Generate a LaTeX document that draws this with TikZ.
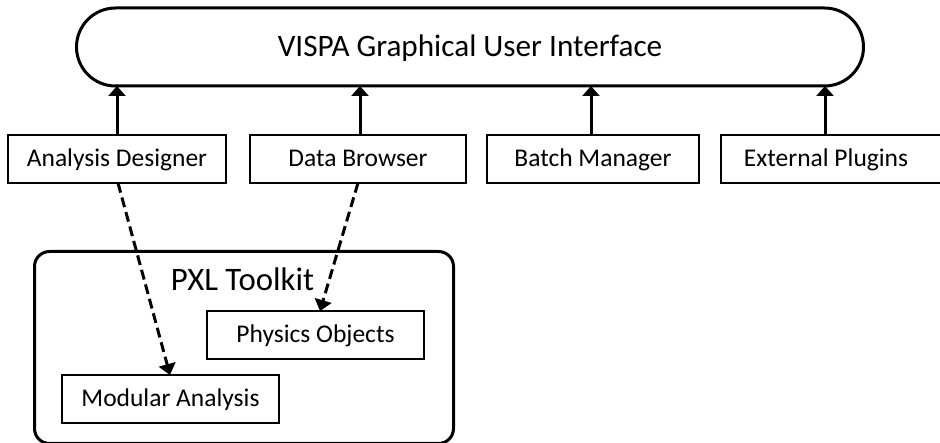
\documentclass[tikz,border=0pt]{standalone}
\usepackage{fontspec}
\setmainfont{Carlito}
\usetikzlibrary{arrows.meta}
\begin{document}
\begin{tikzpicture}[x=1pt,y=-1pt,
  comp/.style={draw,line width=2.2pt,minimum height=48pt,inner sep=0pt,outer sep=0pt,text height=16pt,text depth=0pt,font=\fontsize{25.5}{28}\selectfont,anchor=north west},
  up/.style={line width=3pt,-{Triangle[length=10pt,width=17pt]}},
  dep/.style={line width=3pt,dash pattern=on 10pt off 5pt,-{Triangle[length=11pt,width=17pt]}}]
\useasboundingbox (0,0) rectangle (940,443);
\begin{scope}
\clip (0,0) rectangle (940,443);
\node[draw,line width=3pt,rounded corners=39pt,minimum width=787pt,minimum height=78pt,inner sep=0pt,outer sep=0pt,text height=20pt,text depth=0pt,font=\fontsize{31.2}{34}\selectfont] (gui) at (470,47) {VISPA Graphical User Interface};
\node[comp,minimum width=218pt] (ad) at (8,135) {Analysis Designer};
\node[comp,minimum width=216pt] (db) at (250,135) {Data Browser};
\node[comp,minimum width=212pt] (bm) at (487,135) {Batch Manager};
\node[comp,draw=none,minimum width=210pt] (ep) at (721,135) {External Plugins};
\draw[line width=2.2pt] (ep.north west -| 950,0) -- (ep.north west) -- (ep.south west) -- (ep.south west -| 950,0);
\node[draw,line width=3pt,rounded corners=15pt,minimum width=419pt,minimum height=192pt,inner sep=0pt,anchor=north west] (pxl) at (33,250) {};
\node[font=\fontsize{32.8}{35}\selectfont,inner sep=0pt,text height=21pt,text depth=0pt] (pxlt) at (242.5,280) {PXL Toolkit};
\node[comp,minimum width=217pt] (po) at (207,311) {Physics Objects};
\node[comp,minimum width=217pt] (ma) at (62,375) {Modular Analysis};
\draw[up] (ad.north -| 117,0) -- (gui.south -| 117,0);
\draw[up] (db.north -| 360,0) -- (gui.south -| 360,0);
\draw[up] (bm.north -| 591,0) -- (gui.south -| 591,0);
\draw[up] (ep.north -| 825,0) -- (gui.south -| 825,0);
\draw[dep] (ad.south -| 118,0) -- (ma.north -| 170,0);
\draw[dep] (db.south -| 358,0) -- (po.north -| 320,0);
\end{scope}
\end{tikzpicture}
\end{document}
